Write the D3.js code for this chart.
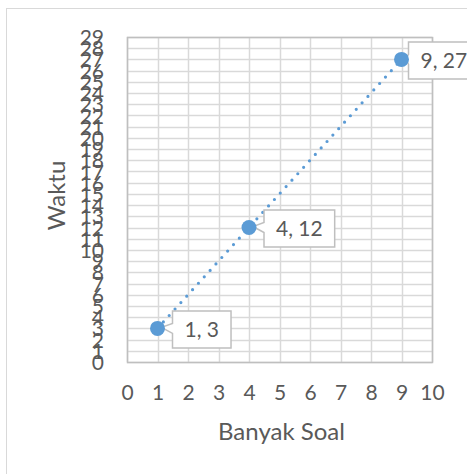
<!DOCTYPE html>
<html><head><meta charset="utf-8">
<script src="https://cdn.jsdelivr.net/npm/d3@7"></script>
<style>html,body{margin:0;padding:0;background:#fff;}svg{display:block;}</style>
</head><body>
<svg id="c" width="467" height="474"></svg>
<script>
const xValues = [1, 4, 9];
const yValues = [3, 12, 27];
const pointLabels = ["1, 3", "4, 12", "9, 27"];
const xTicks = [0,1,2,3,4,5,6,7,8,9,10];
const yTicks = d3.range(0, 30);
const xTitle = "Banyak Soal";
const yTitle = "Waktu";

const svg = d3.select("#c");
const font = "Lato, 'Open Sans', sans-serif";
const textColor = "#595959";
const blue = "#5b9bd5";
const L = 127, R = 432, T = 37, B = 362;
const x = d3.scaleLinear().domain([0, 10]).range([L, R]);
const y = d3.scaleLinear().domain([0, 29]).range([B, T]);

// chart border
svg.append("rect").attr("x", 6.5).attr("y", 8.5).attr("width", 500).attr("height", 500)
  .attr("fill", "none").attr("stroke", "#d9d9d9").attr("stroke-width", 1);

// gridlines
const g = svg.append("g");
g.selectAll(".hg").data(yTicks).join("line")
  .attr("x1", L).attr("x2", R).attr("y1", d => Math.round(y(d)) + 0.5).attr("y2", d => Math.round(y(d)) + 0.5)
  .attr("stroke", "#d9d9d9").attr("stroke-width", 1.5);
g.selectAll(".vg").data(xTicks).join("line")
  .attr("y1", T).attr("y2", B).attr("x1", d => Math.round(x(d)) + 0.5).attr("x2", d => Math.round(x(d)) + 0.5)
  .attr("stroke", "#d9d9d9").attr("stroke-width", 1.5);
// plot border
svg.append("rect").attr("x", L + 0.5).attr("y", T + 0.5).attr("width", R - L).attr("height", B - T)
  .attr("fill", "none").attr("stroke", "#bfbfbf").attr("stroke-width", 1.5);

// axes (labels only)
const xAxis = d3.axisBottom(x).tickValues(xTicks).tickSize(0).tickPadding(0);
const xg = svg.append("g").attr("transform", `translate(0,${B})`).call(xAxis);
xg.select(".domain").remove();
xg.selectAll("text").attr("dy", null).attr("y", 38)
  .attr("font-family", font).attr("font-size", 21).attr("fill", textColor);

const yAxis = d3.axisLeft(y).tickValues(yTicks).tickSize(0).tickPadding(0);
const yg = svg.append("g").attr("transform", `translate(104,0)`).call(yAxis);
yg.select(".domain").remove();
yg.selectAll("text").attr("dy", "0.36em").attr("x", 0)
  .attr("font-family", font).attr("font-size", 21).attr("fill", textColor);

// titles
svg.append("text").attr("x", (L + R) / 2 + 2).attr("y", 440).attr("text-anchor", "middle")
  .attr("font-family", font).attr("font-size", 24).attr("fill", textColor).text(xTitle);
svg.append("text").attr("transform", `translate(65,${(T + B) / 2 - 4}) rotate(-90)`).attr("text-anchor", "middle")
  .attr("font-family", font).attr("font-size", 24).attr("fill", textColor).text(yTitle);

// dotted line
const pts = xValues.map((v, i) => [x(v), y(yValues[i])]);
svg.append("path").attr("d", d3.line()(pts))
  .attr("fill", "none").attr("stroke", blue).attr("stroke-width", 3.2)
  .attr("stroke-linecap", "round").attr("stroke-dasharray", "0 8.7");

// labels with callouts
const labelDx = [15, 15, 7];
pointLabels.forEach((lab, i) => {
  const [px, py] = pts[i];
  const lg = svg.append("g");
  const shape = lg.append("path");
  const t = lg.append("text").attr("font-family", font).attr("font-size", 21).attr("fill", textColor)
    .attr("dy", "0.36em").text(lab);
  const w = t.node().getComputedTextLength();
  const bx = px + labelDx[i], bw = w + 24, bh = 37, by = py - bh / 2 + 1;
  const cy = by + bh / 2;
  const path = `M${bx},${by} H${bx + bw} V${by + bh} H${bx} V${cy + 4} L${px + 4},${py - 1} L${bx},${cy - 6} Z`;
  shape.attr("d", path).attr("fill", "#fff").attr("stroke", "#bfbfbf").attr("stroke-width", 1.5);
  t.attr("x", bx + 12).attr("y", cy);
});

// markers
svg.selectAll(".pt").data(pts).join("circle")
  .attr("cx", d => d[0]).attr("cy", d => d[1]).attr("r", 7.5).attr("fill", blue);
</script>
</body></html>
